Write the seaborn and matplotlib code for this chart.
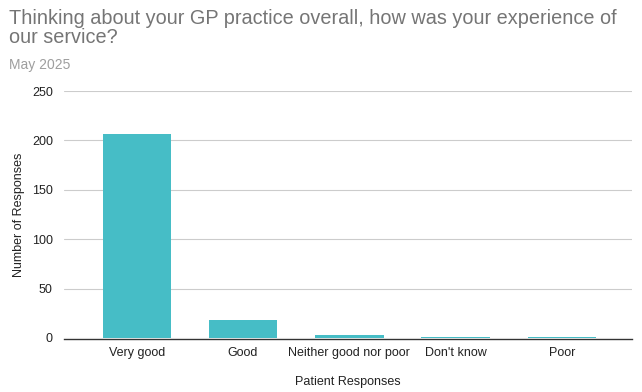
import matplotlib
matplotlib.use("Agg")
import matplotlib.pyplot as plt
import seaborn as sns
import pandas as pd

categories = ["Very good", "Good", "Neither good nor poor", "Don't know", "Poor"]
counts = [206, 18, 3, 1, 1]
y_ticks = [0, 50, 100, 150, 200, 250]

sns.set_theme(style="white")
plt.rcParams['font.family'] = ['Liberation Sans', 'DejaVu Sans']

df = pd.DataFrame({"Response": categories, "Count": counts})

fig = plt.figure(figsize=(6.42, 3.92), dpi=100)
ax = fig.add_axes([64/642, 1 - 338/392, (632-64)/642, (338-91)/392])

sns.barplot(data=df, x="Response", y="Count", color="#46BDC6", saturation=1,
            width=0.645, ax=ax, zorder=5, linewidth=0, edgecolor="none")

ax.set_ylim(0, 250)
ax.set_xlim(-0.685, 4.66)
ax.set_yticks(y_ticks)
ax.set_yticklabels([str(t) for t in y_ticks])
ax.yaxis.grid(True, color="#cccccc", linewidth=0.8, zorder=0)
ax.xaxis.grid(False)
ax.set_axisbelow(True)
for s in ["top", "right", "left"]:
    ax.spines[s].set_visible(False)
ax.spines["bottom"].set_color("#333333")
ax.spines["bottom"].set_linewidth(1)
ax.spines["bottom"].set_zorder(6)
ax.spines["bottom"].set_position(("outward", 0.5))
ax.tick_params(axis="both", length=0, labelsize=9, colors="#222222", pad=6)
ax.tick_params(axis="y", pad=8)

ax.set_xlabel("Patient Responses", fontsize=9, color="#222222", labelpad=12)
ax.set_ylabel("Number of Responses", fontsize=9, color="#222222", labelpad=5)

fig.text(9/642, 1 - 9/392, "Thinking about your GP practice overall, how was your experience of\nour service?",
         fontsize=14.3, color="#757575", ha="left", va="top", linespacing=0.98)
fig.text(9/642, 1 - 58/392, "May 2025", fontsize=10, color="#9e9e9e", ha="left", va="top")

fig.savefig("out.png", dpi=100)
